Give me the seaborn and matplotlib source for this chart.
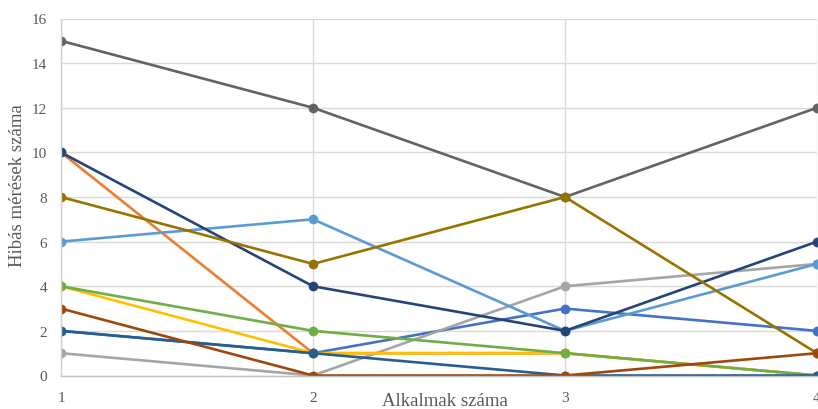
import matplotlib
matplotlib.use("Agg")
import matplotlib.pyplot as plt
import numpy as np
import pandas as pd
import seaborn as sns

# attempts (x axis)
alkalmak = [1, 2, 3, 4]

# error counts per series (Excel default colour order)
s01 = [2, 1, 3, 2]      # blue
s02 = [10, 1, 1, 0]     # orange (hidden after x=2)
s03 = [1, 0, 4, 5]      # gray
s04 = [4, 1, 1, 0]      # gold
s05 = [6, 7, 2, 5]      # light blue
s06 = [4, 2, 1, 0]      # green
s07 = [10, 4, 2, 6]     # dark blue
s08 = [15, 12, 8, 12]   # dark gray
s09 = [8, 5, 8, 1]      # dark gold
s10 = [2, 1, 0, 0]      # steel blue
s11 = [3, 0, 0, 1]      # dark orange

series = {"s01": s01, "s02": s02, "s03": s03, "s04": s04, "s05": s05,
          "s06": s06, "s07": s07, "s08": s08, "s09": s09, "s10": s10,
          "s11": s11}
colors = ["#4472C4", "#ED7D31", "#A5A5A5", "#FFC000", "#5B9BD5", "#70AD47",
          "#264478", "#636363", "#997300", "#255E91", "#9E480E"]

df = pd.DataFrame([(name, x, v) for name, vals in series.items()
                   for x, v in zip(alkalmak, vals)],
                  columns=["series", "alkalom", "hibak"])

sns.set_style("white")
plt.rcParams["font.family"] = ["Liberation Serif", "DejaVu Serif"]

fig = plt.figure(figsize=(8.18, 4.10), dpi=100)
ax = fig.add_axes([61 / 818, 33.5 / 410, 756 / 818, 357 / 410])

for name, col in zip(series, colors):
    sns.lineplot(data=df[df["series"] == name], x="alkalom", y="hibak",
                 color=col, marker="o", markersize=7, markeredgewidth=0,
                 linewidth=1.9, sort=False, ax=ax, legend=False)

ax.set_xlim(1, 4)
ax.set_ylim(0, 16)
ax.set_xticks(alkalmak)
ax.set_yticks(np.arange(0, 17, 2))
ax.grid(True, color="#dadada", linewidth=1.0)
ax.set_axisbelow(True)
for side in ["top", "right"]:
    ax.spines[side].set_visible(False)
ax.spines["left"].set_color("#d0d0d0")
ax.spines["bottom"].set_color("#bfbfbf")
for sp in ax.spines.values():
    sp.set_linewidth(1.0)

ax.tick_params(axis="both", length=0, labelsize=11, colors="#595959")
ax.tick_params(axis="y", pad=10)
ax.tick_params(axis="x", pad=11)
for lab in ax.get_xticklabels() + ax.get_yticklabels():
    lab.set_clip_on(False)

ax.set_xlabel("Alkalmak száma", fontsize=13.5, color="#595959")
ax.set_ylabel("Hibás mérések száma", fontsize=13.5, color="#595959")
ax.xaxis.set_label_coords(0.508, -0.047)
ax.yaxis.set_label_coords(-0.046, 0.535)

fig.savefig("out.png", dpi=100)
